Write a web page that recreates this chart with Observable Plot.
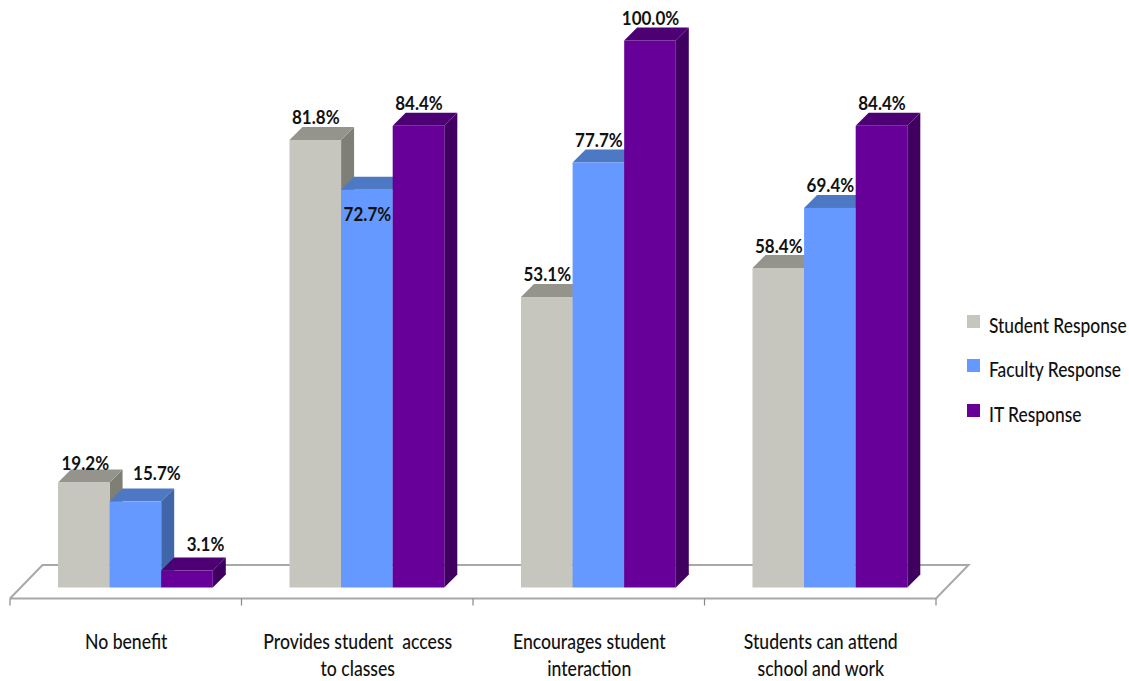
<!DOCTYPE html>
<html>
<head>
<meta charset="utf-8">
<script src="https://cdn.jsdelivr.net/npm/d3@7"></script>
<script src="https://cdn.jsdelivr.net/npm/@observablehq/plot@0.6"></script>
<style>
  html, body { margin: 0; padding: 0; background: #fff; overflow: hidden; }
  #chart { position: relative; width: 1129px; height: 681px; }
  #chart svg { display: block; }
  .legend { position: absolute; left: 967px; top: 302px; font: 500 22px Lato, sans-serif; color: #111; }
  .legend div { display: flex; align-items: center; height: 44.5px; white-space: nowrap; width: 160px; }
  .legend i { display: block; width: 13px; height: 13px; margin-right: 9px; margin-top: -6px; flex: none; }
  .legend span { display: block; transform: scaleX(0.79); transform-origin: 0 50%; }
</style>
</head>
<body>
<div id="chart"></div>
<script>
const categories = [
  "No benefit",
  "Provides student  access\nto classes",
  "Encourages student\ninteraction",
  "Students can attend\nschool and work"
];
const studentResponse = [19.2, 81.8, 53.1, 58.4];
const facultyResponse = [15.7, 72.7, 77.7, 69.4];
const itResponse = [3.1, 84.4, 100.0, 84.4];
const seriesNames = ["Student Response", "Faculty Response", "IT Response"];
const frontColors = ["#c6c6be", "#6699ff", "#660099"];
const topColors = ["#94948c", "#4d78c4", "#4c0073"];
const sideColors = ["#7f7f76", "#4065a8", "#3f0060"];

const seriesValues = [studentResponse, facultyResponse, itResponse];
const rows = categories.flatMap((category, g) =>
  seriesNames.map((series, s) => ({category, g, s, series, value: seriesValues[s][g]}))
);

// Layout of the bars inside one category slot, in category units.
const leadIn = 0.2073, barStep = 0.2229;
// Oblique depth of the pseudo-3D extrusion, in pixels.
const depth = 13;
// Labels that sit away from the default spot above their bar.
const nudges = new Map([["0-1", [21, -6]], ["0-2", [18, -4]], ["1-1", [0, 47]], ["0-0", [1, 3]], ["3-0", [0, 1]]]);
const nudge = (d) => nudges.get(`${d.g}-${d.s}`) ?? [0, 0];

const svgNS = "http://www.w3.org/2000/svg";
function polygon(points, fill) {
  const p = document.createElementNS(svgNS, "polygon");
  p.setAttribute("points", points.map((q) => q.join(",")).join(" "));
  p.setAttribute("fill", fill);
  return p;
}

// Floor slab with its tick marks below the category slots.
function floor(index, {x, y}) {
  const g = d3.create("svg:g").attr("fill", "none").attr("stroke", "#a8a8a8").attr("stroke-width", 2);
  const y0 = y(0), xa = x(0), xb = x(categories.length);
  const front = y0 + 11, back = front - 33.5, run = 32.5;
  g.append("polyline").attr("points", [[xa, front], [xa + run, back], [xb + run, back], [xb, front], [xa, front]].join(" "));
  for (let i = 0; i <= categories.length; ++i) {
    g.append("line").attr("x1", x(i)).attr("x2", x(i)).attr("y1", front).attr("y2", front + 7).attr("stroke-width", 1.2).attr("stroke", "#888");
  }
  return g.node();
}

const labelFont = {fontFamily: "Lato, sans-serif"};
// Narrows each text element about its own anchor to give a condensed face.
function condense(factor, shift = () => [0, 0]) {
  return function (index, scales, values, dimensions, context, next) {
    const g = next(index, scales, values, dimensions, context);
    const labels = g.querySelectorAll("text");
    index.forEach((i, k) => {
      const [dx, dy] = shift(i);
      const base = labels[k].getAttribute("transform") ?? "";
      labels[k].setAttribute("transform", `${base} translate(${dx},${dy}) scale(${factor},1)`);
    });
    return g;
  };
}

const plot = Plot.plot({
  width: 1129,
  height: 681,
  marginTop: 0, marginBottom: 0, marginLeft: 0, marginRight: 0,
  style: {background: "#fff"},
  x: {type: "linear", domain: [0, categories.length], range: [10, 936], axis: null},
  y: {type: "linear", domain: [0, 100], range: [587.5, 40.5], axis: null},
  marks: [
    floor,
    Plot.rect(rows, {
      x1: (d) => d.g + leadIn + d.s * barStep,
      x2: (d) => d.g + leadIn + (d.s + 1) * barStep,
      y1: 0,
      y2: "value",
      fill: (d) => frontColors[d.s],
      render(index, scales, values, dimensions, context, next) {
        const g = next(index, scales, values, dimensions, context);
        const fronts = g.querySelectorAll("rect");
        index.forEach((i, k) => {
          const rect = fronts[k], d = rows[i];
          const left = +rect.getAttribute("x"), w = +rect.getAttribute("width");
          const top = +rect.getAttribute("y"), h = +rect.getAttribute("height");
          const right = left + w, bottom = top + h;
          rect.parentNode.insertBefore(polygon([[right, top], [right + depth, top - depth], [right + depth, bottom - depth], [right, bottom]], sideColors[d.s]), rect);
          rect.parentNode.insertBefore(polygon([[left, top], [left + depth, top - depth], [right + depth, top - depth], [right, top]], topColors[d.s]), rect);
        });
        return g;
      }
    }),
    Plot.text(rows, {
      x: (d) => d.g + leadIn + (d.s + 0.5) * barStep,
      y: "value",
      text: (d) => d.value.toFixed(1) + "%",
      dy: -22,
      fontSize: 18.5,
      fontWeight: "bold",
      fill: "#111",
      ...labelFont,
      render: condense(0.92, (i) => nudge(rows[i]))
    }),
    Plot.text(categories, {
      x: (d, i) => i + 0.5,
      y: 0,
      dy: 42,
      text: (d) => d,
      lineAnchor: "top",
      lineHeight: 1.23,
      fontSize: 22,
      fontWeight: 500,
      fill: "#111",
      ...labelFont,
      render: condense(0.8)
    })
  ]
});

const chart = document.getElementById("chart");
chart.append(plot);

const legend = document.createElement("div");
legend.className = "legend";
seriesNames.forEach((name, s) => {
  const row = document.createElement("div");
  const swatch = document.createElement("i");
  swatch.style.background = frontColors[s];
  const label = document.createElement("span");
  label.textContent = name;
  row.append(swatch, label);
  legend.append(row);
});
chart.append(legend);
</script>
</body>
</html>
